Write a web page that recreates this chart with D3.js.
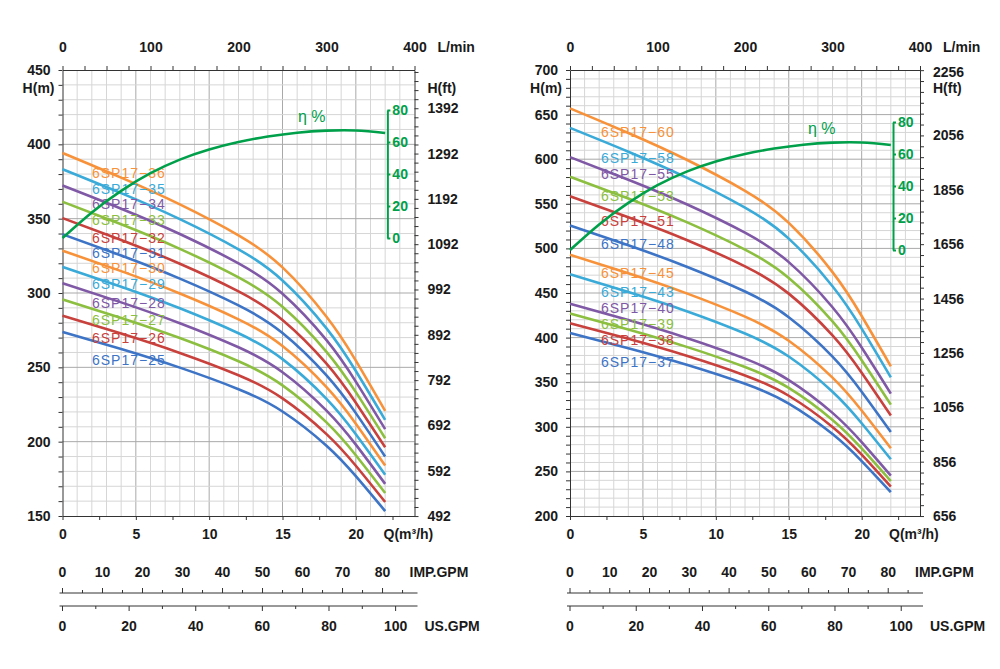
<!DOCTYPE html>
<html>
<head>
<meta charset="utf-8">
<script src="https://cdn.jsdelivr.net/npm/d3@7"></script>
<style>
	body { margin: 0; background: #fff; }
	svg text { font-family: "Liberation Sans", Arial, sans-serif; }
	.axis text { font-size: 14px; font-weight: bold; fill: #1a1a1a; }
	.axis path, .axis line { stroke: #333; stroke-width: 1; }
	.eff-axis text { font-size: 14px; font-weight: bold; fill: #00a04b; }
</style>
</head>
<body>
<div id="chart"></div>
<script>
// flow points (m³/h) where the head curves were read
const flowPts = [0, 4, 8, 12, 15, 18, 20, 22];

// left chart: 6SP17-25 .. 6SP17-36, head in m
const leftModels = ["6SP17−25", "6SP17−26", "6SP17−27", "6SP17−28", "6SP17−29", "6SP17−30",
	"6SP17−31", "6SP17−32", "6SP17−33", "6SP17−34", "6SP17−35", "6SP17−36"];
const leftHeads = [
	[273.8, 262.3, 249.8, 235.3, 220.3, 197.3, 176.8, 153.3],
	[284.7, 272.7, 259.7, 244.7, 229.1, 205.1, 183.8, 159.4],
	[295.7, 283.2, 269.7, 254.1, 237.9, 213.0, 190.9, 165.5],
	[306.6, 293.7, 279.7, 263.5, 246.7, 220.9, 198.0, 171.6],
	[317.6, 304.2, 289.7, 272.9, 255.5, 228.8, 205.0, 177.8],
	[328.5, 314.7, 299.7, 282.3, 264.3, 236.7, 212.1, 183.9],
	[339.5, 325.2, 309.7, 291.7, 273.1, 244.6, 219.2, 190.0],
	[350.4, 335.7, 319.7, 301.1, 281.9, 252.5, 226.2, 196.2],
	[361.4, 346.2, 329.7, 310.5, 290.7, 260.4, 233.3, 202.3],
	[372.3, 356.7, 339.7, 319.9, 299.5, 268.3, 240.4, 208.4],
	[383.3, 367.2, 349.7, 329.4, 308.4, 276.2, 247.5, 214.6],
	[394.2, 377.6, 359.6, 338.8, 317.2, 284.0, 254.5, 220.7]
];

// right chart: 6SP17-37 .. 6SP17-60
const rightModels = ["6SP17−37", "6SP17−38", "6SP17−39", "6SP17−40", "6SP17−43", "6SP17−45",
	"6SP17−48", "6SP17−51", "6SP17−53", "6SP17−55", "6SP17−58", "6SP17−60"];
const rightHeads = [
	[405.2, 388.1, 369.6, 348.2, 326.0, 291.9, 261.6, 226.8],
	[416.1, 398.6, 379.6, 357.6, 334.8, 299.8, 268.7, 232.9],
	[427.1, 409.1, 389.6, 367.0, 343.6, 307.7, 275.7, 239.1],
	[438.0, 419.6, 399.6, 376.4, 352.4, 315.6, 282.8, 245.2],
	[470.9, 451.1, 429.6, 404.6, 378.8, 339.3, 304.0, 263.6],
	[492.8, 472.1, 449.6, 423.5, 396.5, 355.1, 318.2, 275.9],
	[525.6, 503.5, 479.5, 451.7, 422.9, 378.7, 339.4, 294.2],
	[558.5, 535.0, 509.5, 479.9, 449.3, 402.4, 360.6, 312.6],
	[580.4, 556.0, 529.5, 498.7, 466.9, 418.2, 374.7, 324.9],
	[602.3, 577.0, 549.5, 517.6, 484.6, 434.0, 388.9, 337.2],
	[635.1, 608.4, 579.4, 545.8, 511.0, 457.6, 410.1, 355.5],
	[657.0, 629.4, 599.4, 564.6, 528.6, 473.4, 424.2, 367.8]
];

// efficiency curve (same on both charts)
const effFlow = [0, 2, 4, 6, 8, 10, 12, 14, 16, 18, 20, 22];
const effValues = [0, 16, 29.5, 40.5, 49, 55.3, 60, 63.4, 65.8, 67.1, 67.2, 65.6];
const effTicks = [0, 20, 40, 60, 80];

// tick labels
const qTicks = [0, 5, 10, 15, 20];
const lpmTicks = [0, 100, 200, 300, 400];
const impTicks = [0, 10, 20, 30, 40, 50, 60, 70, 80];
const usTicks = [0, 20, 40, 60, 80, 100];
const leftFtTicks = [492, 592, 692, 792, 892, 992, 1092, 1192, 1292, 1392];
const rightFtTicks = [656, 856, 1056, 1256, 1456, 1656, 1856, 2056, 2256];

// colours cycle from the lowest curve upward
const curveColors = ["#3d74c6", "#c8413c", "#8cbf3f", "#8059a6", "#3aaad8", "#f7923a"];
const effColor = "#00a04b";

const M3H_PER_IMP = 0.272765;
const M3H_PER_US = 0.227125;
const FT_PER_M = 3.28084;

let svg = d3.select("#chart").append("svg")
	.attr("width", 1000)
	.attr("height", 669);

let layouts = [
	{
		models: leftModels, heads: leftHeads, hDomain: [150, 450], ftTicks: leftFtTicks, ftStep: 20,
		x0: 62.5, x1: 414.5, effBase: 238, labelX: 92,
		labelY: [360, 338, 320, 303, 284, 268, 253, 238, 220, 204, 189, 173],
		effLabel: [298, 116]
	},
	{
		models: rightModels, heads: rightHeads, hDomain: [200, 700], ftTicks: rightFtTicks, ftStep: 40,
		x0: 570, x1: 920, effBase: 250, labelX: 601,
		labelY: [362, 340, 324, 308, 292, 273, 244, 221, 196, 174, 158, 132],
		effLabel: [808, 128]
	}
];

layouts.forEach(l => drawChart(l));

function drawChart(cfg) {
	let top = 70, bottom = 516;

	let x = d3.scaleLinear().domain([0, 24]).range([cfg.x0, cfg.x1]);
	let y = d3.scaleLinear().domain(cfg.hDomain).range([bottom, top]);
	let yFt = d3.scaleLinear().domain(cfg.hDomain.map(d => d * FT_PER_M)).range([bottom, top]);
	let xLpm = d3.scaleLinear().domain([0, 400]).range([x(0), x(24)]);
	let yEff = d3.scaleLinear().domain([0, 80]).range([cfg.effBase, cfg.effBase - 128]);

	let g = svg.append("g");

	// grid
	let grid = g.append("g");
	grid.selectAll(".vg")
		.data(d3.range(1, 24))
		.enter().append("line")
		.attr("x1", d => x(d)).attr("x2", d => x(d))
		.attr("y1", top).attr("y2", bottom)
		.attr("stroke", d => d % 5 === 0 ? "#a9a9a9" : "#d6d6d6")
		.attr("stroke-width", 1);
	grid.selectAll(".hg")
		.data(d3.range(cfg.hDomain[0] + 10, cfg.hDomain[1], 10))
		.enter().append("line")
		.attr("x1", x(0)).attr("x2", x(24))
		.attr("y1", d => y(d)).attr("y2", d => y(d))
		.attr("stroke", d => d % 50 === 0 ? "#a9a9a9" : "#d6d6d6")
		.attr("stroke-width", 1);

	// axes
	g.append("g")
		.attr("class", "axis")
		.attr("transform", "translate(" + x(0) + ",0)")
		.call(d3.axisLeft(y)
			.tickValues(d3.range(cfg.hDomain[0], cfg.hDomain[1] + 1, 10))
			.tickSize(4).tickSizeOuter(0).tickPadding(8)
			.tickFormat(d => d % 50 === 0 ? d : ""));

	let ftVals = d3.range(cfg.ftTicks[0], cfg.hDomain[1] * FT_PER_M, cfg.ftStep);
	let ftAxis = g.append("g")
		.attr("class", "axis")
		.attr("transform", "translate(" + x(24) + ",0)")
		.call(d3.axisRight(yFt)
			.tickValues(ftVals)
			.tickSize(4).tickSizeOuter(0).tickPadding(9)
			.tickFormat(d => cfg.ftTicks.includes(d) ? d : ""));
	// a label that would hit the top edge sits on it instead
	ftAxis.selectAll(".tick text")
		.filter(d => cfg.ftTicks.includes(d) && yFt(d) - top < 14)
		.attr("y", d => top + 2 - yFt(d));

	g.append("g")
		.attr("class", "axis")
		.attr("transform", "translate(0," + top + ")")
		.call(d3.axisTop(xLpm)
			.tickValues(d3.range(0, 401, 25))
			.tickSize(4).tickSizeOuter(0).tickPadding(14)
			.tickFormat(d => lpmTicks.includes(d) ? d : ""));

	g.append("g")
		.attr("class", "axis")
		.attr("transform", "translate(0," + bottom + ")")
		.call(d3.axisBottom(x)
			.tickValues(d3.range(0, 23, 2.5))
			.tickSize(4).tickSizeOuter(0).tickPadding(9)
			.tickFormat(d => qTicks.includes(d) ? d : ""));

	// axis titles
	let titles = g.append("g")
		.attr("font-size", 14).attr("font-weight", "bold").attr("fill", "#1a1a1a");
	titles.append("text").attr("x", x(0) - 8).attr("y", 93).attr("text-anchor", "end").text("H(m)");
	titles.append("text").attr("x", x(24) + 13).attr("y", 93).text("H(ft)");
	titles.append("text").attr("x", x(24) + 23).attr("y", 52).text("L/min");
	titles.append("text").attr("x", x(24) - 31).attr("y", 539).text("Q(m³/h)");

	// head curves
	let line = d3.line()
		.curve(d3.curveNatural)
		.x(d => x(d[0]))
		.y(d => y(d[1]));

	g.append("g").selectAll(".curve")
		.data(cfg.heads)
		.enter().append("path")
		.attr("fill", "none")
		.attr("stroke", (d, i) => curveColors[i % 6])
		.attr("stroke-width", 2.6)
		.attr("d", d => line(d.map((h, j) => [flowPts[j], h])));

	// model labels
	g.append("g").selectAll(".lbl")
		.data(cfg.models)
		.enter().append("text")
		.attr("x", cfg.labelX)
		.attr("y", (d, i) => cfg.labelY[i])
		.attr("dy", "0.36em")
		.attr("font-size", 14)
		.attr("letter-spacing", 1)
		.attr("fill", (d, i) => curveColors[i % 6])
		.text(d => d);

	// efficiency curve and axis
	let effLine = d3.line()
		.curve(d3.curveNatural)
		.x(d => x(d[0]))
		.y(d => yEff(d[1]));

	g.append("path")
		.datum(effFlow.map((q, i) => [q, effValues[i]]))
		.attr("fill", "none")
		.attr("stroke", effColor)
		.attr("stroke-width", 2.6)
		.attr("d", effLine);

	let effAxis = g.append("g")
		.attr("class", "eff-axis")
		.attr("transform", "translate(" + x(22.15) + ",0)")
		.call(d3.axisRight(yEff)
			.tickValues(effTicks)
			.tickSize(3).tickSizeOuter(0).tickPadding(2));
	effAxis.select(".domain").attr("stroke", effColor).attr("stroke-width", 2);
	effAxis.selectAll(".tick line").attr("stroke", effColor).attr("stroke-width", 2);

	g.append("text")
		.attr("x", cfg.effLabel[0])
		.attr("y", cfg.effLabel[1])
		.attr("dy", "0.35em")
		.attr("font-size", 16)
		.attr("fill", effColor)
		.text("η %");

	// IMP.GPM and US.GPM scales under the chart
	let xImp = d3.scaleLinear().domain([0, 1]).range([x(0), x(M3H_PER_IMP)]);
	let xUs = d3.scaleLinear().domain([0, 1]).range([x(0), x(M3H_PER_US)]);
	let impY = 593, usY = 606;

	let gpm = g.append("g").attr("stroke", "#333");
	gpm.append("line").attr("x1", x(0) - 3).attr("x2", x(24) + 3).attr("y1", impY).attr("y2", impY);
	gpm.append("line").attr("x1", x(0) - 3).attr("x2", x(24) + 3).attr("y1", usY).attr("y2", usY);
	gpm.selectAll(".it")
		.data(d3.range(0, 86, 5))
		.enter().append("line")
		.attr("x1", d => xImp(d)).attr("x2", d => xImp(d))
		.attr("y1", impY).attr("y2", d => d % 10 === 0 ? impY - 5 : impY - 3);
	gpm.selectAll(".ut")
		.data(d3.range(0, 101, 10))
		.enter().append("line")
		.attr("x1", d => xUs(d)).attr("x2", d => xUs(d))
		.attr("y1", usY).attr("y2", d => d % 20 === 0 ? usY + 5 : usY + 3);

	let gpmText = g.append("g")
		.attr("font-size", 14).attr("font-weight", "bold").attr("fill", "#1a1a1a")
		.attr("text-anchor", "middle");
	gpmText.selectAll(".il")
		.data(impTicks)
		.enter().append("text")
		.attr("x", d => xImp(d)).attr("y", 577)
		.text(d => d);
	gpmText.selectAll(".ul")
		.data(usTicks)
		.enter().append("text")
		.attr("x", d => xUs(d)).attr("y", 631)
		.text(d => d);
	gpmText.append("text").attr("x", x(24) - 5).attr("y", 577).attr("text-anchor", "start").text("IMP.GPM");
	gpmText.append("text").attr("x", x(24) + 10).attr("y", 631).attr("text-anchor", "start").text("US.GPM");
}
</script>
</body>
</html>
